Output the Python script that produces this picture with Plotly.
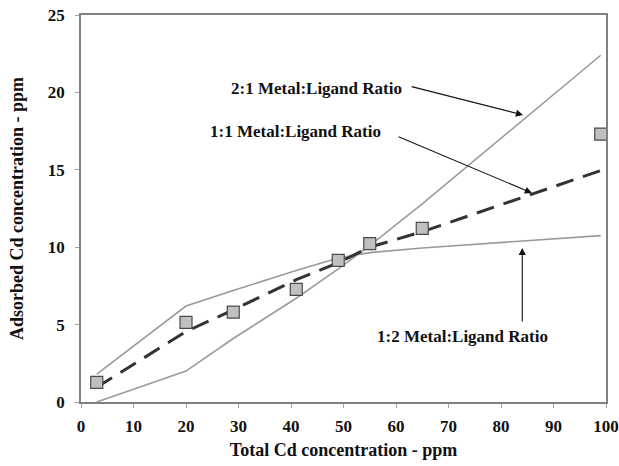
import plotly.graph_objects as go

# Data
total_cd = [3, 20, 29, 41, 49, 55, 65, 99]
adsorbed_cd = [1.27, 5.15, 5.8, 7.28, 9.15, 10.23, 11.22, 17.3]

model_x = [3, 20, 29, 41, 49, 55, 65, 99]
ratio_2_1 = [0.0, 2.0, 4.1, 6.7, 8.6, 10.1, 12.8, 22.4]
ratio_1_1 = [0.95, 4.55, 5.95, 7.9, 9.0, 10.0, 11.0, 14.95]
ratio_1_2 = [1.8, 6.2, 7.2, 8.5, 9.3, 9.65, 9.95, 10.75]

x_ticks = [0, 10, 20, 30, 40, 50, 60, 70, 80, 90, 100]
y_ticks = [0, 5, 10, 15, 20, 25]

labels = ["2:1 Metal:Ligand Ratio", "1:1 Metal:Ligand Ratio", "1:2 Metal:Ligand Ratio"]
label_x = [44.8, 40.95, 72.7]
label_y = [20.28, 17.5, 4.26]
arrow_from_x = [62.7, 60.2, 84.05]
arrow_from_y = [20.4, 17.18, 5.1]
arrow_to_x = [84.2, 85.9, 84.05]
arrow_to_y = [18.54, 13.5, 9.95]

FONT = "Liberation Serif"

fig = go.Figure()

fig.add_trace(go.Scatter(x=model_x, y=ratio_2_1, mode="lines",
                         line=dict(color="#9a9a9a", width=1.6), showlegend=False))
fig.add_trace(go.Scatter(x=model_x, y=ratio_1_2, mode="lines",
                         line=dict(color="#9a9a9a", width=1.6), showlegend=False))
fig.add_trace(go.Scatter(x=model_x, y=ratio_1_1, mode="lines",
                         line=dict(color="#333333", width=3, dash="18px,10px"), showlegend=False))
fig.add_trace(go.Scatter(x=total_cd, y=adsorbed_cd, mode="markers",
                         marker=dict(symbol="square", size=12, color="#c0c0c0",
                                     line=dict(color="#4a4a4a", width=1.2)),
                         showlegend=False))

for t, lx, ly in zip(labels, label_x, label_y):
    fig.add_annotation(x=lx, y=ly, xref="x", yref="y", text="<b>" + t + "</b>", showarrow=False,
                       font=dict(family=FONT, size=17, color="#111111"))

for fx, fy, tx, ty in zip(arrow_from_x, arrow_from_y, arrow_to_x, arrow_to_y):
    fig.add_annotation(x=tx, y=ty, ax=fx, ay=fy, xref="x", yref="y", axref="x", ayref="y",
                       text="", showarrow=True, arrowhead=2, arrowsize=1.3, arrowwidth=1.1,
                       arrowcolor="#111111", standoff=0)

axis_common = dict(showline=True, linecolor="#808080", linewidth=1.5, mirror=True,
                   ticks="outside", tickcolor="#a0a0a0", ticklen=4, tickwidth=1,
                   showgrid=False, zeroline=False, automargin=False,
                   tickfont=dict(family=FONT, size=17, color="#111111"))

fig.update_xaxes(range=[0, 100], tickvals=x_ticks, ticktext=["<b>%d</b>" % v for v in x_ticks],
                 ticklabelstandoff=4,
                 title=dict(text="<b>Total Cd concentration - ppm</b>", standoff=8,
                            font=dict(family=FONT, size=18, color="#111111")),
                 **axis_common)
fig.update_yaxes(range=[0, 25], tickvals=y_ticks, ticktext=["<b>%d</b>" % v for v in y_ticks],
                 ticklabelstandoff=7,
                 title=dict(text="<b>Adsorbed Cd concentration - ppm</b>", standoff=20,
                            font=dict(family=FONT, size=18, color="#111111")),
                 **axis_common)

fig.update_layout(width=619, height=466, margin=dict(l=81, r=13, t=15, b=64),
                  plot_bgcolor="white", paper_bgcolor="white")

fig.write_html("out.html")
